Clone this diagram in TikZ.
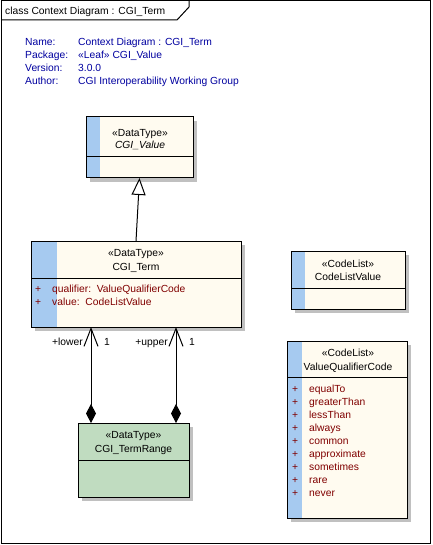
\documentclass[tikz,border=0pt]{standalone}
\usepackage{fontspec}
\setmainfont{Liberation Sans}
\usetikzlibrary{arrows.meta,calc}
\definecolor{cream}{RGB}{255,251,240}
\definecolor{stripc}{RGB}{166,202,240}
\definecolor{shadowc}{RGB}{192,192,192}
\definecolor{hdrblue}{RGB}{0,0,160}
\definecolor{attred}{RGB}{128,0,0}
\definecolor{rangegreen}{RGB}{192,220,192}
\begin{document}
\begin{tikzpicture}[x=1pt,y=-1pt,font=\fontsize{10.3}{12}\selectfont,
  cls/.style={draw=black,line width=1pt,anchor=north west,inner sep=0pt,outer sep=0pt},
  shadowbox/.style={fill=shadowc,draw=none},
  sep/.style={draw=black,line width=1pt},
  txt/.style={inner sep=0pt,anchor=base},
  ltxt/.style={inner sep=0pt,anchor=base west},
  rtxt/.style={inner sep=0pt,anchor=base east},
  hdr/.style={ltxt,text=hdrblue},
  att/.style={ltxt,text=attred},
  conn/.style={draw=black,line width=1pt}]
\useasboundingbox (0,0) rectangle (432,545);
\fill[white] (0,0) rectangle (432,545);
% frame
\draw[line width=1pt] (1,1) rectangle (430,543);
\draw[line width=1pt] (1,20) -- (177,20) -- (189,7) -- (189,1);
\node[ltxt] (title) at (5,15) {class Context Diagram : CGI\_Term};
% header
\node[hdr] (h1) at (25,46) {Name:};
\node[hdr] (h2) at (25,59) {Package:};
\node[hdr] (h3) at (25,72) {Version:};
\node[hdr] (h4) at (25,85) {Author:};
\node[hdr] (v1) at (78,46) {Context Diagram : CGI\_Term};
\node[hdr] (v2) at (78,59) {«Leaf» CGI\_Value};
\node[hdr] (v3) at (78,72) {3.0.0};
\node[hdr] (v4) at (78,85) {CGI Interoperability Working Group};
% CGI_Value
\fill[shadowbox] (90,121) rectangle (197,182);
\node[cls,fill=cream,minimum width=107pt,minimum height=61pt] (value) at (86,117) {};
\fill[stripc] (86.5,117.5) rectangle (100,177.5);
\draw[sep] (86,157) -- (193,157);
\draw[line width=1pt] (86,117) rectangle (193,178);
\node[txt] (valuest) at (140,137) {«DataType»};
\node[txt] (valuename) at (140,149) {\itshape CGI\_Value};
% CGI_Term
\fill[shadowbox] (35,245) rectangle (245,331);
\node[cls,fill=cream,minimum width=210pt,minimum height=86pt] (term) at (31,241) {};
\fill[stripc] (31.5,241.5) rectangle (57,326.5);
\draw[sep] (31,278) -- (241,278);
\draw[line width=1pt] (31,241) rectangle (241,327);
\node[txt] (termst) at (136,256) {«DataType»};
\node[txt] (termname) at (136,270) {CGI\_Term};
\node[att] (tp1) at (35,292) {+};
\node[att] (ta1) at (52,292) {qualifier:\ \ ValueQualifierCode};
\node[att] (tp2) at (35,305) {+};
\node[att] (ta2) at (52,305) {value:\ \ CodeListValue};
% CGI_TermRange
\fill[shadowbox] (82,427) rectangle (193,501);
\node[cls,fill=rangegreen,minimum width=111pt,minimum height=74pt] (range) at (78,423) {};
\draw[sep] (78,460) -- (189,460);
\node[txt] (rangest) at (133.5,438) {«DataType»};
\node[txt] (rangename) at (133.5,452) {CGI\_TermRange};
% CodeListValue
\fill[shadowbox] (295,255) rectangle (409,313);
\node[cls,fill=cream,minimum width=114pt,minimum height=58pt] (clv) at (291,251) {};
\fill[stripc] (291.5,251.5) rectangle (305,308.5);
\draw[sep] (291,288) -- (405,288);
\draw[line width=1pt] (291,251) rectangle (405,309);
\node[txt] (clvst) at (348,267) {«CodeList»};
\node[txt] (clvname) at (348,280) {CodeListValue};
% ValueQualifierCode
\fill[shadowbox] (291,345) rectangle (411,522);
\node[cls,fill=cream,minimum width=120pt,minimum height=177pt] (vqc) at (287,341) {};
\fill[stripc] (287.5,341.5) rectangle (302,517.5);
\draw[sep] (287,377) -- (407,377);
\draw[line width=1pt] (287,341) rectangle (407,518);
\node[txt] (vqcst) at (348,356) {«CodeList»};
\node[txt] (vqcname) at (348,370) {ValueQualifierCode};
\foreach \n [count=\i from 0] in {equalTo,greaterThan,lessThan,always,common,approximate,sometimes,rare,never}{
  \node[att] (vp\i) at (292,392+13*\i) {+};
  \node[att] (vi\i) at (309,392+13*\i) {\n};
}
% generalization
\draw[conn,-{Triangle[open,length=17pt,width=14pt,line width=1pt,fill=white]}] (term.north) -- (value.south);
% associations
\coordinate (la) at ([xshift=-42.5pt]range.north);
\coordinate (ua) at ([xshift=42.5pt]range.north);
\draw[conn,{Diamond[length=19pt,width=10pt]}-{Straight Barb[length=18pt,width=14pt,line width=1pt]}] (la) -- (la |- term.south);
\draw[conn,{Diamond[length=19pt,width=10pt]}-{Straight Barb[length=18pt,width=14pt,line width=1pt]}] (ua) -- (ua |- term.south);
\node[rtxt] (lrole) at (83,345) {+lower};
\node[ltxt] (lmult) at (104,345) {1};
\node[rtxt] (urole) at (168,345) {+upper};
\node[ltxt] (umult) at (189,345) {1};
\end{tikzpicture}
\end{document}
